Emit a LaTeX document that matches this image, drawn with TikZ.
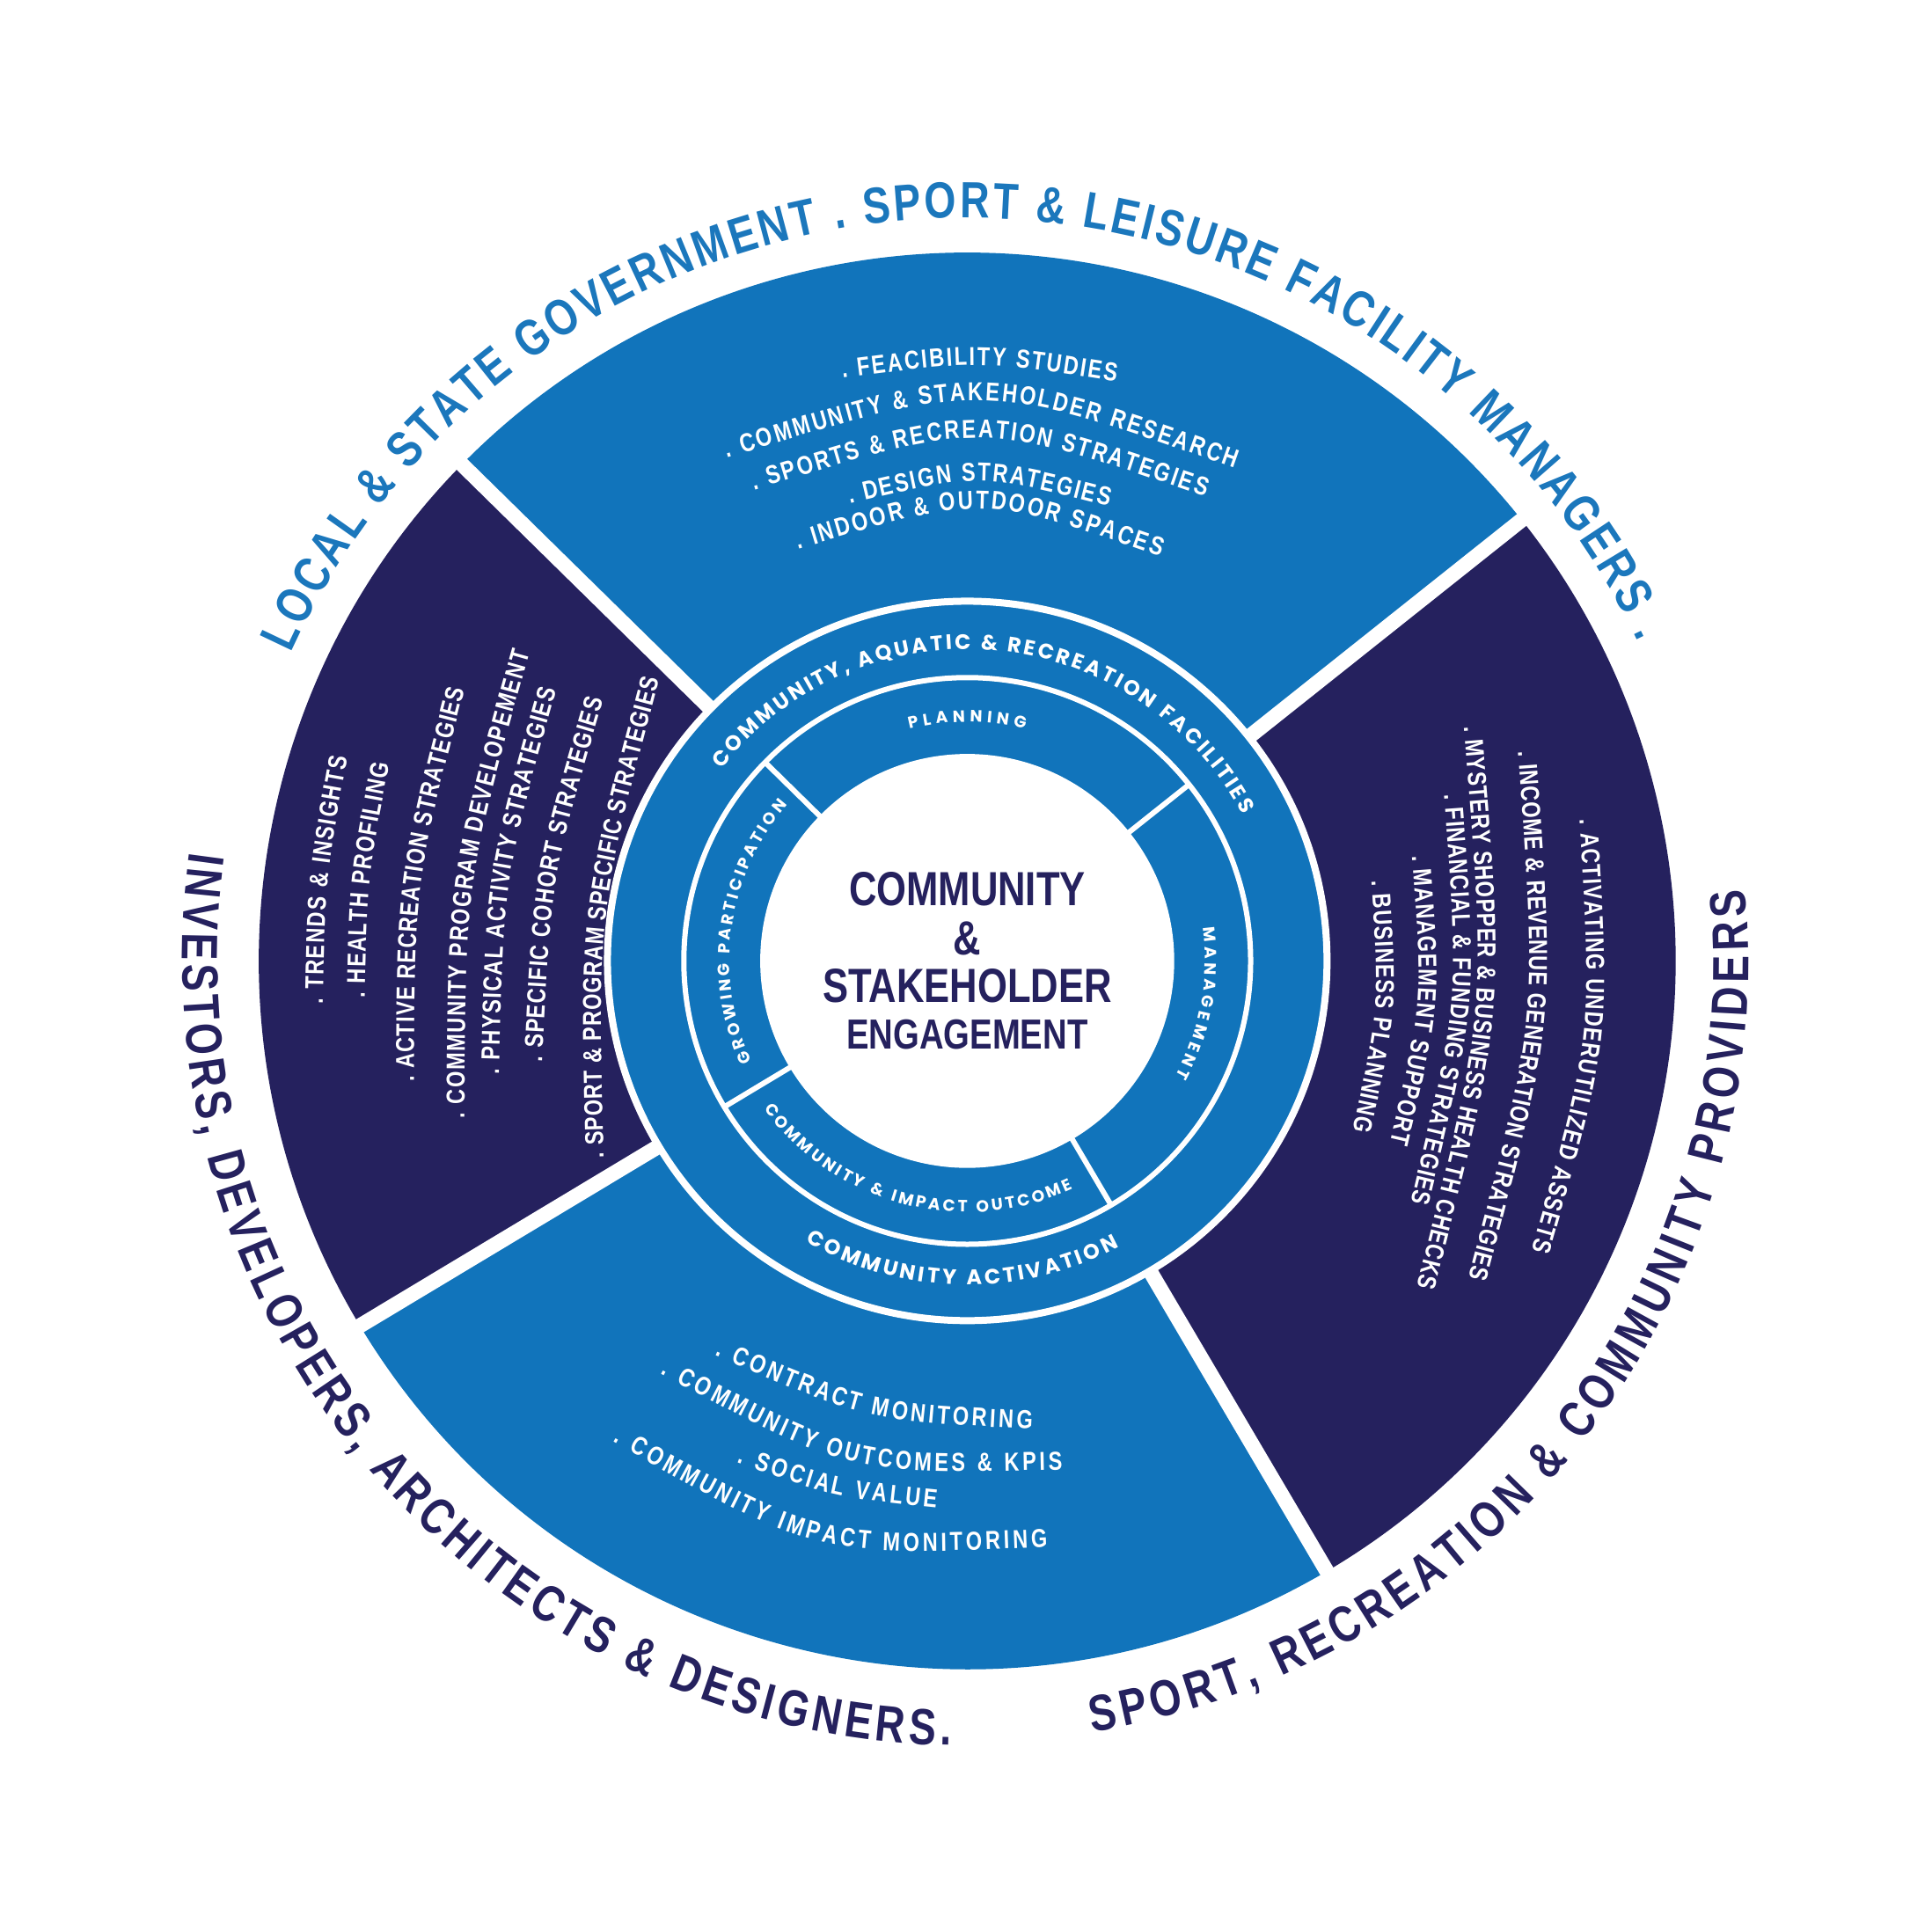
\documentclass[tikz,border=0pt]{standalone}
\usepackage{fontspec}
\setmainfont{Poppins}
\newfontfamily\itemfont{Liberation Sans}[FakeStretch=0.8]
\usetikzlibrary{decorations.text}
\definecolor{cblue}{HTML}{1174BB}
\definecolor{cnavy}{HTML}{25215E}
\definecolor{ctop}{HTML}{1B77BC}
\def\isz{8.4}
\newcommand\ctext[6]{%
 \pgfmathsetmacro\ax{#1-785}\pgfmathsetmacro\ay{780-#2}%
 \pgfmathsetmacro\bx{#3-785}\pgfmathsetmacro\by{780-#4}%
 \pgfmathsetmacro\len{100*veclen((\bx-\ax)/100,(\by-\ay)/100)}%
 \pgfmathsetmacro\cx{(\ax+\bx)/2-2*#5*((\by-\ay)/\len)}%
 \pgfmathsetmacro\cy{(\ay+\by)/2+2*#5*((\bx-\ax)/\len)}%
 \path[decorate,decoration={text along path,text align=fit to path,text color=white,
   text={|\itemfont\bfseries\fontsize{\isz}{9}\selectfont|#6}}]
   (\ax,\ay) .. controls (\cx,\cy) .. (\bx,\by);}
\tikzset{
  gap/.style={white,line width=0.17cm},
  div/.style={white,line width=0.06cm},
  outer/.style={decorate,decoration={text along path,text align=fit to path,text color=#1}},
}
\begin{document}
\begin{tikzpicture}[x=0.014cm,y=0.014cm]
\useasboundingbox (-785,-774) rectangle (783,780);
% sectors
\fill[cblue] (0,0) -- (38.5:575) arc[start angle=38.5,end angle=135.5,radius=575] -- cycle;
\fill[cnavy] (0,0) -- (135.5:575) arc[start angle=135.5,end angle=211,radius=575] -- cycle;
\fill[cblue] (0,0) -- (211:575) arc[start angle=211,end angle=300.5,radius=575] -- cycle;
\fill[cnavy] (0,0) -- (300.5:575) arc[start angle=300.5,end angle=398.5,radius=575] -- cycle;
\foreach \a in {38.5,135.5,211,300.5} \draw[gap] (0,0) -- (\a:590);
% rings
\fill[cblue,draw=white,line width=0.08cm] (0,0) circle[radius=292];
\draw[div] (0,0) circle[radius=230];
\foreach \a in {38.5,135.5,211,300.5} \draw[div] (\a:165) -- (\a:230);
\fill[white] (0,0) circle[radius=168];
% centre
\node[text=cnavy,font=\itemfont\bfseries\fontsize{15.5}{16}\selectfont] (c1) at (0,58) {COMMUNITY};
\node[text=cnavy,font=\itemfont\bfseries\fontsize{15.5}{16}\selectfont] (c2) at (0,18) {\&};
\node[text=cnavy,font=\itemfont\bfseries\fontsize{15.5}{16}\selectfont] (c3) at (0,-20) {STAKEHOLDER};
\node[text=cnavy,font=\itemfont\bfseries\fontsize{13.6}{14}\selectfont] (c4) at (0,-60) {ENGAGEMENT};
% ring labels
\path[outer=white,decoration={text={|\bfseries\fontsize{6.8}{8}\selectfont|COMMUNITY, AQUATIC {\&} RECREATION FACILITIES}}]
  (142:253) arc[start angle=142,end angle=28,radius=253];
\path[outer=white,decoration={text={|\bfseries\fontsize{6.8}{8}\selectfont|COMMUNITY ACTIVATION}}]
  (240:263) arc[start angle=240,end angle=298,radius=263];
\path[outer=white,decoration={text={|\bfseries\fontsize{5.3}{6}\selectfont|PLANNING}}]
  (104:194) arc[start angle=104,end angle=76,radius=194];
\path[outer=white,decoration={text={|\bfseries\fontsize{5.3}{6}\selectfont|MANAGEMENT}}]
  (8:193) arc[start angle=8,end angle=-29,radius=193];
\path[outer=white,decoration={text={|\bfseries\fontsize{5.3}{6}\selectfont|COMMUNITY {\&} IMPACT OUTCOME}}]
  (216:204) arc[start angle=216,end angle=295,radius=204];
\path[outer=white,decoration={text={|\bfseries\fontsize{5.3}{6}\selectfont|GROWING PARTICIPATION}}]
  (205:193) arc[start angle=205,end angle=139,radius=193];
% outer labels
\path[outer=ctop,decoration={text={|\itemfont\bfseries\fontsize{16.5}{17}\selectfont|LOCAL {\&} STATE GOVERNMENT . SPORT {\&} LEISURE FACILITY MANAGERS .}}]
  (155.5:603) arc[start angle=155.5,end angle=25.5,radius=603];
\path[outer=cnavy,decoration={text={|\itemfont\bfseries\fontsize{16.5}{17}\selectfont|INVESTORS, DEVELOPERS, ARCHITECTS {\&} DESIGNERS.}}]
  (172:637) arc[start angle=172,end angle=268.8,radius=637];
\path[outer=cnavy,decoration={text={|\itemfont\bfseries\fontsize{16.5}{17}\selectfont|SPORT, RECREATION {\&} COMMUNITY PROVIDERS}}]
  (279.2:634) arc[start angle=279.2,end angle=365.2,radius=634];
% top items
\ctext{684}{307}{906}{310}{8}{. FEACIBILITY STUDIES}
\ctext{590}{372}{1002}{380}{34}{. COMMUNITY {\&} STAKEHOLDER RESEARCH}
\ctext{612}{398}{978}{403}{30}{. SPORTS {\&} RECREATION STRATEGIES}
\ctext{690}{409}{900}{411}{13}{. DESIGN STRATEGIES}
\ctext{648}{446}{942}{452}{24}{. INDOOR {\&} OUTDOOR SPACES}
% bottom items
\ctext{580}{1100}{838}{1160}{-12}{. CONTRACT MONITORING}
\ctext{536}{1115}{862}{1193}{-22}{. COMMUNITY OUTCOMES {\&} KPIS}
\ctext{598}{1187}{760}{1224}{-5}{. SOCIAL VALUE}
\ctext{497}{1170}{850}{1256}{-26}{. COMMUNITY IMPACT MONITORING}
% left items
\ctext{262}{815}{282}{615}{4}{. TRENDS {\&} INSIGHTS}
\ctext{296}{810}{316}{620}{4}{. HEALTH PROFILING}
\ctext{336}{878}{377}{560}{10}{. ACTIVE RECREATION STRATEGIES}
\ctext{377}{908}{430}{530}{13}{. COMMUNITY PROGRAM DEVELOPEMENT}
\ctext{405}{872}{452}{560}{10}{. PHYSICAL ACTIVITY STRATEGIES}
\ctext{440}{862}{490}{568}{9}{. SPECIFIC COHORT  STRATEGIES}
\ctext{490}{940}{535}{552}{14}{. SPORT {\&} PROGRAM SPECIFIC STRATEGIES}
% right items
\ctext{1282}{665}{1243}{1015}{15}{. ACTIVATING UNDERUTILIZED ASSETS}
\ctext{1232}{610}{1192}{1037}{18}{. INCOME {\&} REVENUE GENERATION STRATEGIES}
\ctext{1188}{590}{1150}{1044}{19}{. MYSTERY SHOPPER {\&} BUSINESS HEALTH CHECKS}
\ctext{1172}{645}{1145}{976}{13}{. FINANCIAL {\&} FUNDING STRATEGIES}
\ctext{1146}{695}{1128}{928}{9}{. MANAGEMENT SUPPORT}
\ctext{1113}{715}{1098}{918}{7}{. BUSINESS PLANNING}
\end{tikzpicture}
\end{document}
